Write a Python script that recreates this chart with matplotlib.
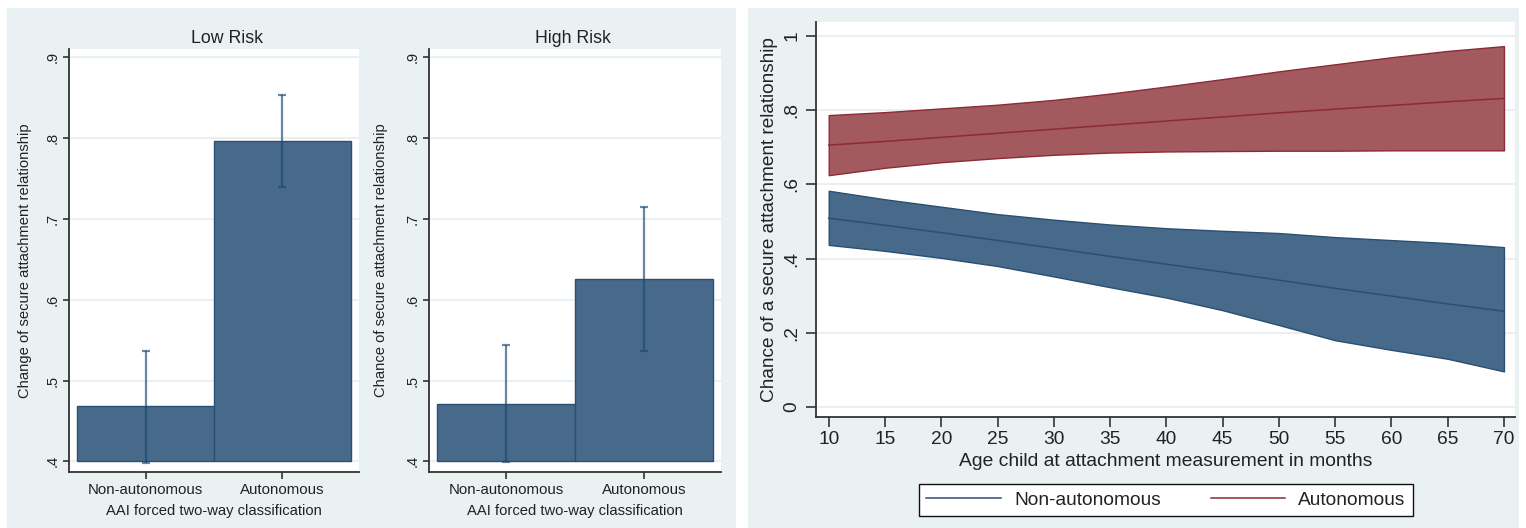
import matplotlib
matplotlib.use('Agg')
import matplotlib.pyplot as plt
from matplotlib.patches import Rectangle
import numpy as np

plt.rcParams['font.family'] = ['Liberation Sans', 'DejaVu Sans']

# Bar panels: predicted chance of secure attachment by AAI classification
categories = ['Non-autonomous', 'Autonomous']
low_mean = [0.468, 0.796]
low_lo = [0.398, 0.739]
low_hi = [0.537, 0.853]
high_mean = [0.471, 0.626]
high_lo = [0.399, 0.536]
high_hi = [0.544, 0.715]
bar_ticks = [0.4, 0.5, 0.6, 0.7, 0.8, 0.9]
bar_ticklabels = ['.4', '.5', '.6', '.7', '.8', '.9']
BAR_BASE = 0.4

# Line panel: margins over child age (months)
age = [10, 15, 20, 25, 30, 35, 40, 45, 50, 55, 60, 65, 70]
auto_mid = [0.706, 0.716, 0.727, 0.738, 0.749, 0.760, 0.771, 0.782, 0.793, 0.803, 0.813, 0.823, 0.832]
auto_lo = [0.625, 0.645, 0.660, 0.671, 0.680, 0.686, 0.689, 0.690, 0.691, 0.691, 0.692, 0.692, 0.692]
auto_hi = [0.787, 0.795, 0.805, 0.815, 0.828, 0.845, 0.864, 0.884, 0.905, 0.924, 0.943, 0.960, 0.973]
nonauto_mid = [0.509, 0.490, 0.470, 0.449, 0.428, 0.406, 0.385, 0.364, 0.342, 0.320, 0.299, 0.278, 0.258]
nonauto_lo = [0.437, 0.421, 0.402, 0.380, 0.352, 0.323, 0.295, 0.261, 0.221, 0.180, 0.154, 0.130, 0.096]
nonauto_hi = [0.583, 0.560, 0.540, 0.520, 0.505, 0.492, 0.482, 0.475, 0.469, 0.458, 0.450, 0.442, 0.431]
age_ticks = [10, 15, 20, 25, 30, 35, 40, 45, 50, 55, 60, 65, 70]
prob_ticks = [0, 0.2, 0.4, 0.6, 0.8, 1.0]
prob_ticklabels = ['0', '.2', '.4', '.6', '.8', '1']

# colours (Stata s2color look)
BG = '#eaf1f3'
GRID = '#e6eef0'
AXIS = '#333333'
BLUE_FILL = '#486a8a'
BLUE_EDGE = '#2b4f72'
RED_FILL = '#a35a5e'
RED_EDGE = '#8c2a36'
ERR = '#1a476f'

W, H = 1526, 528
fig = plt.figure(figsize=(W / 100, H / 100), dpi=100)
fig.patch.set_facecolor('white')


def px_rect(x0, y0, x1, y1):
    # pixel box (top-left origin) -> figure fraction rect
    return [x0 / W, 1 - y1 / H, (x1 - x0) / W, (y1 - y0) / H]


# light grey graph regions behind the plots
for x0, x1 in [(7, 736), (748, 1519)]:
    r = px_rect(x0, 8, x1, H)
    fig.add_artist(Rectangle((r[0], r[1]), r[2], r[3], transform=fig.transFigure,
                             facecolor=BG, edgecolor='none', zorder=-1))


def style_axes(ax):
    ax.set_facecolor('white')
    for s in ['top', 'right']:
        ax.spines[s].set_visible(False)
    for s in ['left', 'bottom']:
        ax.spines[s].set_color(AXIS)
        ax.spines[s].set_linewidth(1.3)
    ax.grid(axis='y', color=GRID, linewidth=1.2)
    ax.set_axisbelow(True)


def bar_panel(rect, mean, lo, hi, title, title_x, ylabel, ylabel_x):
    ax = fig.add_axes(rect)
    style_axes(ax)
    x = np.arange(len(categories))
    mean = np.array(mean)
    ax.bar(x, mean - BAR_BASE, bottom=BAR_BASE, width=1.0, color=BLUE_FILL,
           edgecolor=BLUE_EDGE, linewidth=1.0, zorder=2)
    yerr = np.vstack([mean - np.array(lo), np.array(hi) - mean])
    ax.errorbar(x, mean, yerr=yerr, fmt='none', ecolor=ERR, alpha=0.65,
                elinewidth=1.6, capsize=3, capthick=1.6, zorder=3)
    ax.set_xlim(-0.56, 1.56)
    ax.set_ylim(0.3868, 0.9103)
    ax.set_yticks(bar_ticks)
    ax.set_yticklabels(bar_ticklabels)
    ax.set_xticks(x)
    ax.set_xticklabels(categories)
    ax.tick_params(axis='y', labelrotation=90, length=4, width=1.2, color=AXIS,
                   labelsize=10.5, pad=3, labelcolor='#222222')
    ax.tick_params(axis='x', length=5, width=1.2, color=AXIS, labelsize=10.8,
                   pad=3, labelcolor='#222222')
    for lab in ax.get_yticklabels():
        lab.set_va('center')
    ax.set_title(title, x=title_x, pad=4, fontsize=12.8, color='#222222')
    ax.set_ylabel(ylabel, fontsize=10.6, va='center', color='#222222')
    ax.yaxis.set_label_coords(ylabel_x, 0.5)
    ax.set_xlabel('AAI forced two-way classification', fontsize=10.6,
                  va='center', color='#222222')
    ax.xaxis.set_label_coords(0.5, -0.092)
    return ax


bar_panel(px_rect(69, 49, 359, 472), low_mean, low_lo, low_hi, 'Low Risk', 0.545,
          'Change of secure attachment relationship', -0.152)
bar_panel(px_rect(429, 49, 721, 472), high_mean, high_lo, high_hi, 'High Risk', 0.493,
          'Chance of secure attachment relationship', -0.165)

# right panel: predicted probability over age
ax3 = fig.add_axes(px_rect(816, 22, 1515, 417))
style_axes(ax3)
ax3.fill_between(age, nonauto_lo, nonauto_hi, facecolor=BLUE_FILL,
                 edgecolor=BLUE_EDGE, linewidth=1.0, zorder=2)
ax3.plot(age, nonauto_mid, color=BLUE_EDGE, linewidth=1.1, zorder=3,
         label='Non-autonomous')
ax3.fill_between(age, auto_lo, auto_hi, facecolor=RED_FILL,
                 edgecolor=RED_EDGE, linewidth=1.0, zorder=2)
ax3.plot(age, auto_mid, color=RED_EDGE, linewidth=1.1, zorder=3,
         label='Autonomous')
ax3.set_xlim(8.87, 70.98)
ax3.set_ylim(-0.027, 1.038)
ax3.set_xticks(age_ticks)
ax3.set_yticks(prob_ticks)
ax3.set_yticklabels(prob_ticklabels)
ax3.tick_params(axis='y', labelrotation=90, length=7, width=1.2, color=AXIS,
                labelsize=13.8, pad=4, labelcolor='#222222')
ax3.tick_params(axis='x', length=7, width=1.2, color=AXIS, labelsize=13.8,
                pad=3, labelcolor='#222222')
for lab in ax3.get_yticklabels():
    lab.set_va('center')
ax3.set_ylabel('Chance of a secure attachment relationship', fontsize=13.7,
               va='center', color='#222222')
ax3.yaxis.set_label_coords(-0.066, 0.5)
ax3.set_xlabel('Age child at attachment measurement in months', fontsize=13.9,
               va='center', color='#222222')
ax3.xaxis.set_label_coords(0.5, -0.113)

handles, labels = ax3.get_legend_handles_labels()
leg = fig.legend(handles, labels, loc='center', ncol=2,
                 bbox_to_anchor=(1166 / W, 1 - 500 / H), fontsize=13.8,
                 frameon=True, fancybox=False, framealpha=1, edgecolor='#111111',
                 handlelength=3.9, handletextpad=0.68, columnspacing=2.6,
                 borderpad=0.4)
leg.get_frame().set_linewidth(1.0)
for t in leg.get_texts():
    t.set_color('#222222')

fig.savefig('out.png', dpi=100, facecolor=fig.get_facecolor())
